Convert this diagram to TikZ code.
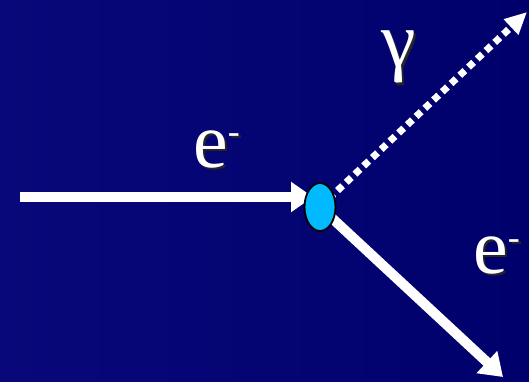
\documentclass[tikz,border=0pt]{standalone}
\usepackage{fontspec}
\setmainfont{Liberation Serif}
\usetikzlibrary{arrows.meta, positioning, shapes.geometric}
\definecolor{navy}{RGB}{0,0,108}
\definecolor{navylight}{RGB}{8,8,122}
\definecolor{blob}{RGB}{0,185,255}
\pgfdeclarelayer{back}
\pgfdeclarelayer{mid}
\pgfsetlayers{back,mid,main}
\newcommand{\elec}{e\raisebox{24pt}{\fontsize{36}{36}\selectfont -}}

\begin{document}
\begin{tikzpicture}[x=1pt, y=1pt,
  particle/.style={draw=white, line width=10pt, -{Triangle[length=22pt, width=29pt]}},
  photon/.style={draw=white, line width=7pt, dash pattern=on 7pt off 5pt, -{Triangle[length=22pt, width=20pt]}},
  vertex/.style={draw=black, line width=1.8pt, fill=blob, ellipse, minimum width=31pt, minimum height=48pt, inner sep=0pt},
  lbl/.style={text=white, anchor=base west, inner sep=0pt, font=\fontsize{78}{80}\selectfont},
  shade/.style={lbl, text=black!85, xshift=2.5pt, yshift=-2.5pt}
]
\useasboundingbox (0,0) rectangle (529,381);
\begin{pgfonlayer}{back}
  \shade[left color=navylight, right color=navy] (-3,-3) rectangle (532,384);
\end{pgfonlayer}

% scattering vertex and free ends
\node[vertex] (v) at (320,174) {};
\coordinate (in) at (20,184);
\coordinate (eout) at (503,4);
\coordinate (gout) at (527,369);

\begin{pgfonlayer}{mid}
  \draw[particle] (in) -- ([xshift=-7pt]in -| v);
  \draw[particle] (v.center) -- (eout);
  \draw[photon] (v.center) -- (gout);
\end{pgfonlayer}

% labels
\node[shade] at (193,214) {\elec};
\node[lbl] (ein) at (193,214) {\elec};
\node[shade] at (381,314) {γ};
\node[lbl] (gam) at (381,314) {γ};
\node[shade] at (473,108) {\elec};
\node[lbl] (eo) at (473,108) {\elec};
\end{tikzpicture}
\end{document}
